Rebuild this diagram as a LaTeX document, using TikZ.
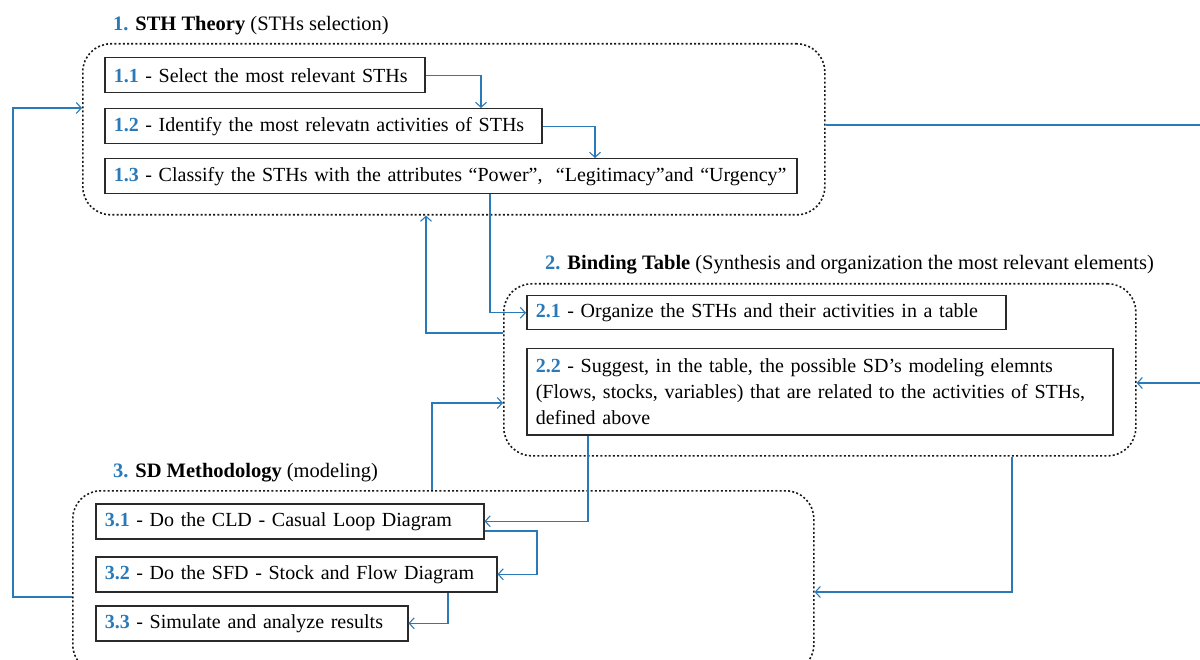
\documentclass[tikz,border=0pt]{standalone}
\usepackage{fontspec}
\setmainfont{Liberation Serif}
\usetikzlibrary{arrows.meta}
\definecolor{cblue}{HTML}{2A7AB9}
\definecolor{cgray}{HTML}{2A2A2A}
\newcommand{\nb}[1]{\textcolor{cblue}{\textbf{#1}}}
\begin{document}
\begin{tikzpicture}[x=1pt,y=-1pt,
  box/.style={draw=cgray, line width=1.5pt, anchor=north west, inner xsep=9pt, inner ysep=0pt,
    align=left, font=\fontsize{20}{26}\selectfont},
  grp/.style={draw=black!90, line width=1.6pt, dash pattern=on 2pt off 2.2pt, rounded corners=28pt,
    anchor=north west, inner sep=0pt},
  ttl/.style={anchor=base west, inner sep=0pt, font=\fontsize{20.5}{24}\selectfont},
  link/.style={draw=cblue, line width=1.2pt, -{Straight Barb[length=5pt,width=11pt,line width=1.1pt]}},
  plain/.style={draw=cblue, line width=1.2pt}]
\useasboundingbox (0,0) rectangle (1200,660);
\clip (0,0) rectangle (1200,660);

% groups
\node[grp, minimum width=742pt, minimum height=171pt] (g1) at (82,43) {};
\node[grp, minimum width=632pt, minimum height=172pt] (g2) at (503,283) {};
\node[grp, minimum width=741pt, minimum height=182pt] (g3) at (72,490) {};

% titles
\node[ttl] (t1) at (113,31) {\nb{1.} \textbf{STH Theory} (STHs selection)};
\node[ttl] (t2) at (545,270) {\nb{2.} \textbf{Binding Table} (Synthesis and organization the most relevant elements)};
\node[ttl] (t3) at (113,477) {\nb{3.} \textbf{SD Methodology} (modeling)};

% boxes
\node[box, text width=302pt, minimum height=35pt] (b11) at (104,57) {\nb{1.1} - Select the most relevant STHs};
\node[box, text width=419pt, minimum height=35pt] (b12) at (104,108) {\nb{1.2} - Identify the most relevatn activities of STHs};
\node[box, text width=674pt, minimum height=35pt] (b13) at (104,158) {\nb{1.3} - Classify the STHs with the attributes “Power”,~ “Legitimacy”and “Urgency”};
\node[box, text width=461pt, minimum height=34pt] (b21) at (526,295) {\nb{2.1} - Organize the STHs and their activities in a table};
\node[box, text width=568pt, minimum height=86pt] (b22) at (526,348) {\nb{2.2} - Suggest, in the table, the possible SD’s modeling elemnts\\(Flows, stocks, variables) that are related to the activities of STHs,\\defined above};
\node[box, text width=370pt, minimum height=35pt] (b31) at (95,503) {\nb{3.1} - Do the CLD - Casual Loop Diagram};
\node[box, text width=383pt, minimum height=35pt] (b32) at (95,556) {\nb{3.2} - Do the SFD - Stock and Flow Diagram};
\node[box, text width=294pt, minimum height=35pt] (b33) at (95,605) {\nb{3.3} - Simulate and analyze results};

% helper coordinates
\coordinate (r1) at (1200,125);
\coordinate (r2) at (1200,383);
\coordinate (k1) at (426,333);
\coordinate (k2) at (432,403);
\coordinate (k3) at (1012,592);
\coordinate (k4) at (537,531);
\coordinate (k5) at (13,597);
\coordinate (k6) at (13,108);

% connectors
\draw[link] (b11.east) -| ([xshift=377pt]b12.north west);
\draw[link] (b12.east) -| ([xshift=491pt]b13.north west);
\draw[plain] (g1.east |- r1) -- (r1);
\draw[link] ([xshift=386pt]b13.south west) |- (b21.west);
\draw[link] (g2.west |- k1) -| (g1.south -| k1);
\draw[link] (g3.north -| k2) |- (g2.west |- k2);
\draw[link] (r2) -- (g2.east |- r2);
\draw[link] (g2.south -| k3) |- (g3.east |- k3);
\draw[link] ([xshift=62pt]b22.south west) |- (b31.east);
\draw[link] (b31.east |- k4) -- (k4) |- (b32.east);
\draw[link] ([xshift=353pt]b32.south west) |- (b33.east);
\draw[link] (g3.west |- k5) -| (k6) -- (g1.west |- k6);
\end{tikzpicture}
\end{document}
